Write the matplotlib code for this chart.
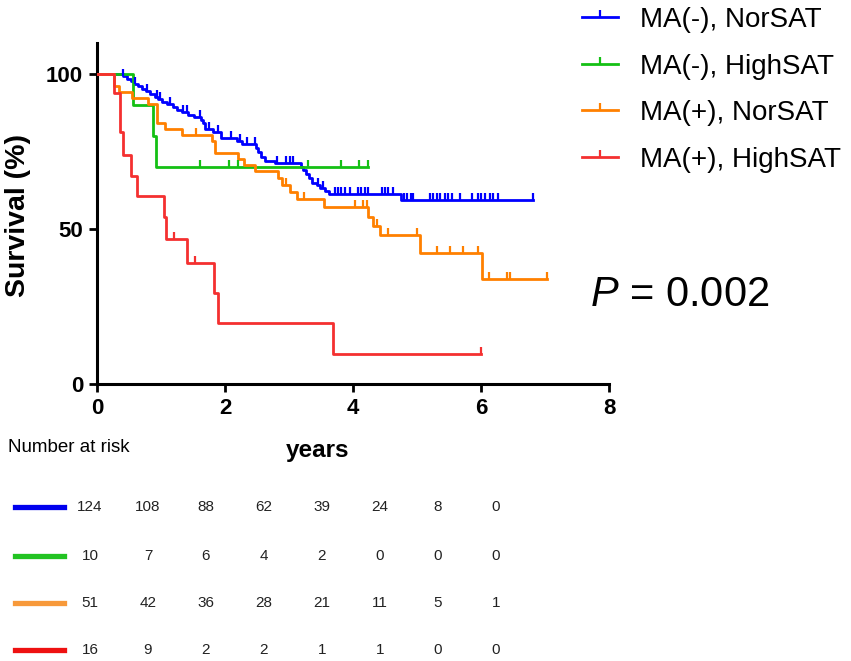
import numpy as np
import matplotlib.pyplot as plt
from matplotlib.lines import Line2D

plt.rcParams['font.family'] = ['Liberation Sans', 'DejaVu Sans']
plt.rcParams['mathtext.fontset'] = 'custom'
plt.rcParams['mathtext.it'] = 'Liberation Sans:italic'
plt.rcParams['mathtext.rm'] = 'Liberation Sans'

labels = ['MA(-), NorSAT', 'MA(-), HighSAT', 'MA(+), NorSAT', 'MA(+), HighSAT']
colors = ['#0000ff', '#14c014', '#ff8000', '#f43030']
table_colors = ['#0000ee', '#22c322', '#f7993a', '#ee1111']

# step times (years) and survival (%) after each step, last point = end of follow-up
blue_t = [0, 0.41, 0.47, 0.53, 0.58, 0.64, 0.70, 0.76, 0.83, 0.90, 0.96, 1.02, 1.10,
          1.18, 1.25, 1.33, 1.42, 1.52, 1.62, 1.66, 1.69, 1.82, 1.93, 2.18, 2.27,
          2.48, 2.52, 2.57, 2.63, 2.78, 3.18, 3.22, 3.27, 3.32, 3.36, 3.43, 3.49,
          3.56, 3.63, 4.75, 6.82]
blue_s = [100, 99.2, 98.4, 97.6, 96.8, 96.0, 95.2, 94.4, 93.5, 92.7, 91.9, 91.0, 90.2,
          89.4, 88.5, 87.7, 86.8, 86.0, 85.1, 84.2, 82.4, 81.4, 79.5, 78.4, 77.3,
          76.2, 74.8, 73.1, 71.9, 71.2, 70.1, 68.9, 67.6, 66.4, 64.9, 64.1, 63.1,
          62.2, 61.4, 59.4, 59.4]
blue_cens = [0.41, 0.59, 0.78, 0.94, 0.98, 1.14, 1.35, 1.40, 1.61, 1.75, 1.89, 2.10,
             2.23, 2.34, 2.47, 2.81, 2.96, 3.01, 3.06, 3.45, 3.53, 3.72, 3.77, 3.81,
             3.88, 3.95, 4.08, 4.12, 4.19, 4.23, 4.45, 4.50, 4.55, 4.63, 4.80, 4.85,
             4.90, 4.94, 5.20, 5.25, 5.31, 5.36, 5.44, 5.48, 5.55, 5.67, 5.86, 5.95,
             6.00, 6.06, 6.14, 6.19, 6.27, 6.82]

green_t = [0, 0.56, 0.87, 0.92, 4.24]
green_s = [100, 90, 80, 70, 70]
green_cens = [1.61, 2.07, 2.21, 3.29, 3.82, 4.09, 4.24]

orange_t = [0, 0.27, 0.34, 0.54, 0.80, 0.93, 1.06, 1.33, 1.79, 1.84, 2.21, 2.29,
            2.47, 2.83, 2.89, 3.02, 3.12, 3.54, 4.24, 4.32, 4.42, 5.05, 6.01, 7.03]
orange_s = [100, 96.1, 94.1, 92.2, 90.2, 84.3, 82.3, 80.4, 78.4, 74.5, 72.5, 70.6,
            68.6, 66.6, 64.3, 62.0, 59.6, 57.0, 54.0, 51.0, 48.0, 42.4, 34.0, 34.0]
orange_cens = [1.55, 2.96, 3.23, 4.03, 4.15, 4.22, 4.37, 4.55, 5.00, 5.31, 5.52,
               5.72, 5.96, 6.13, 6.40, 6.46, 7.03]

red_t = [0, 0.27, 0.36, 0.40, 0.53, 0.62, 1.04, 1.08, 1.41, 1.83, 1.89, 3.68, 6.0]
red_s = [100, 93.8, 81.3, 74.0, 67.0, 60.6, 53.8, 46.8, 39.0, 29.3, 19.6, 9.8, 9.8]
red_cens = [1.20, 1.53, 6.0]

risk_blue = [124, 108, 88, 62, 39, 24, 8, 0]
risk_green = [10, 7, 6, 4, 2, 0, 0, 0]
risk_orange = [51, 42, 36, 28, 21, 11, 5, 1]
risk_red = [16, 9, 2, 2, 1, 1, 0, 0]

curves = [(blue_t, blue_s, blue_cens), (green_t, green_s, green_cens),
          (orange_t, orange_s, orange_cens), (red_t, red_s, red_cens)]
risks = [risk_blue, risk_green, risk_orange, risk_red]

W, H = 851, 661
fig = plt.figure(figsize=(W / 100, H / 100), dpi=100)
ax = fig.add_axes([97 / W, 1 - 384 / H, (609 - 97) / W, (384 - 43) / H])

handles = []
for (t, s, cens), col, lab in zip(curves, colors, labels):
    t = np.asarray(t)
    s = np.asarray(s)
    ax.step(t, s, where='post', color=col, lw=2.0, zorder=3)
    idx = np.searchsorted(t, np.asarray(cens), side='right') - 1
    ax.plot(cens, s[idx], linestyle='none', marker=2, ms=5, mew=1.6,
            color=col, zorder=4, clip_on=False)
    handles.append(Line2D([], [], color=col, lw=2.0, marker=2, ms=5, mew=1.6,
                          label=lab))

ax.set_xlim(0, 8)
ax.set_ylim(0, 110)
ax.set_xticks([0, 2, 4, 6, 8])
ax.set_yticks([0, 50, 100])
for side in ['top', 'right']:
    ax.spines[side].set_visible(False)
for side in ['left', 'bottom']:
    ax.spines[side].set_linewidth(2.2)
ax.tick_params(width=2, length=6, labelsize=16, pad=4)
for lbl in ax.get_xticklabels() + ax.get_yticklabels():
    lbl.set_fontweight('bold')

fig.text(18 / W, 1 - 215 / H, 'Survival (%)', rotation=90, ha='center', va='center',
         fontsize=20.5, fontweight='bold')
fig.text(318 / W, 1 - 450 / H, 'years', ha='center', va='center',
         fontsize=17.5, fontweight='bold')

fig.legend(handles=handles, loc='upper left', bbox_to_anchor=(582 / W, 1 - 7 / H),
           frameon=False, fontsize=20, handlelength=1.3, handletextpad=0.8,
           labelspacing=0.74, borderpad=0, borderaxespad=0, numpoints=1)

fig.text(680 / W, 1 - 295 / H, r'$\mathit{P}$ = 0.002', ha='center', va='center',
         fontsize=30)

# number at risk table
fig.text(8 / W, 1 - 448 / H, 'Number at risk', ha='left', va='center', fontsize=13.5)
row_y = [507, 556, 603, 650]
for r, (vals, col) in enumerate(zip(risks, table_colors)):
    y = 1 - row_y[r] / H
    fig.add_artist(Line2D([15 / W, 64 / W], [y, y], color=col, lw=3.8,
                          transform=fig.transFigure))
    for i, v in enumerate(vals):
        fig.text((90 + 58 * i) / W, y, str(v), ha='center', va='center',
                 fontsize=11, color='#222222')

fig.savefig('out.png', dpi=100)
